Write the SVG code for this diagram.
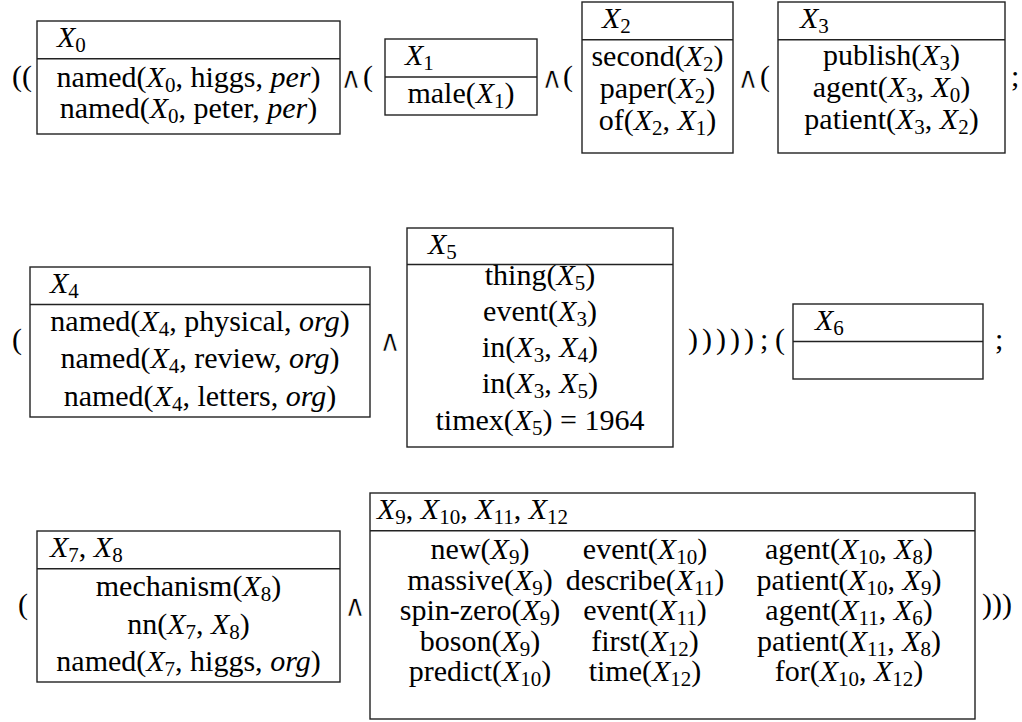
<svg xmlns="http://www.w3.org/2000/svg" width="1022" height="722" viewBox="0 0 1022 722">
<style>
.t,.op{font-family:'Liberation Serif',serif;font-size:30px;fill:#000}
.m{text-anchor:middle}
.i{font-style:italic}
.s{font-size:21px}
.box{fill:#fff;stroke:#222;stroke-width:1.4}
.div{stroke:#222;stroke-width:1.4}
.and{font-family:'DejaVu Sans',sans-serif;font-size:30px;fill:#000;stroke:#fff;stroke-width:0.7;text-anchor:middle}
</style>
<rect width="1022" height="722" fill="#fff"/>

<g id="operators">
<text class="op" x="12" y="86">((</text>
<text class="and" x="351" y="88">∧</text><text class="op" x="363" y="86">(</text>
<text class="and" x="552" y="88">∧</text><text class="op" x="563" y="86">(</text>
<text class="and" x="748" y="88">∧</text><text class="op" x="760" y="86">(</text>
<text class="op" x="1011" y="86">;</text>

<text class="op" x="12" y="349">(</text>
<text class="and" x="390" y="351">∧</text>
<text class="op" x="688" y="349" letter-spacing="4">)))))</text>
<text class="op" x="760" y="349">;</text>
<text class="op" x="775" y="349">(</text>
<text class="op" x="995" y="349">;</text>

<text class="op" x="18" y="614">(</text>
<text class="and" x="355" y="616">∧</text>
<text class="op" x="982" y="614">)))</text>
</g>

<g id="drs-x0">
<rect class="box" x="37" y="21" width="303" height="113"/>
<line class="div" x1="37" y1="58.7" x2="340" y2="58.7"/>
<text class="t" x="57" y="47.4"><tspan class="i">X</tspan><tspan class="s" dy="5">0</tspan></text>
<text class="t m" x="188.5" y="87">named(<tspan class="i">X</tspan><tspan class="s" dy="5">0</tspan><tspan dy="-5">, higgs, </tspan><tspan class="i">per</tspan>)</text>
<text class="t m" x="188.5" y="118">named(<tspan class="i">X</tspan><tspan class="s" dy="5">0</tspan><tspan dy="-5">, peter, </tspan><tspan class="i">per</tspan>)</text>
</g>

<g id="drs-x1">
<rect class="box" x="385" y="39" width="152" height="76"/>
<line class="div" x1="385" y1="77" x2="537" y2="77"/>
<text class="t" x="405" y="65.4"><tspan class="i">X</tspan><tspan class="s" dy="5">1</tspan></text>
<text class="t m" x="461" y="102.5">male(<tspan class="i">X</tspan><tspan class="s" dy="5">1</tspan><tspan dy="-5">)</tspan></text>
</g>

<g id="drs-x2">
<rect class="box" x="582" y="2" width="151" height="151"/>
<line class="div" x1="582" y1="39.7" x2="733" y2="39.7"/>
<text class="t" x="602" y="28.4"><tspan class="i">X</tspan><tspan class="s" dy="5">2</tspan></text>
<text class="t m" x="657.5" y="66">second(<tspan class="i">X</tspan><tspan class="s" dy="5">2</tspan><tspan dy="-5">)</tspan></text>
<text class="t m" x="657.5" y="98">paper(<tspan class="i">X</tspan><tspan class="s" dy="5">2</tspan><tspan dy="-5">)</tspan></text>
<text class="t m" x="657.5" y="130">of(<tspan class="i">X</tspan><tspan class="s" dy="5">2</tspan><tspan dy="-5">, </tspan><tspan class="i">X</tspan><tspan class="s" dy="5">1</tspan><tspan dy="-5">)</tspan></text>
</g>

<g id="drs-x3">
<rect class="box" x="778" y="2" width="227" height="151"/>
<line class="div" x1="778" y1="39.7" x2="1005" y2="39.7"/>
<text class="t" x="800" y="28.4"><tspan class="i">X</tspan><tspan class="s" dy="5">3</tspan></text>
<text class="t m" x="891.5" y="65">publish(<tspan class="i">X</tspan><tspan class="s" dy="5">3</tspan><tspan dy="-5">)</tspan></text>
<text class="t m" x="891.5" y="97">agent(<tspan class="i">X</tspan><tspan class="s" dy="5">3</tspan><tspan dy="-5">, </tspan><tspan class="i">X</tspan><tspan class="s" dy="5">0</tspan><tspan dy="-5">)</tspan></text>
<text class="t m" x="891.5" y="129">patient(<tspan class="i">X</tspan><tspan class="s" dy="5">3</tspan><tspan dy="-5">, </tspan><tspan class="i">X</tspan><tspan class="s" dy="5">2</tspan><tspan dy="-5">)</tspan></text>
</g>

<g id="drs-x4">
<rect class="box" x="30" y="267" width="340" height="150"/>
<line class="div" x1="30" y1="304.5" x2="370" y2="304.5"/>
<text class="t" x="50" y="293.4"><tspan class="i">X</tspan><tspan class="s" dy="5">4</tspan></text>
<text class="t m" x="200" y="330.9">named(<tspan class="i">X</tspan><tspan class="s" dy="5">4</tspan><tspan dy="-5">, physical, </tspan><tspan class="i">org</tspan>)</text>
<text class="t m" x="200" y="368.4">named(<tspan class="i">X</tspan><tspan class="s" dy="5">4</tspan><tspan dy="-5">, review, </tspan><tspan class="i">org</tspan>)</text>
<text class="t m" x="200" y="405.9">named(<tspan class="i">X</tspan><tspan class="s" dy="5">4</tspan><tspan dy="-5">, letters, </tspan><tspan class="i">org</tspan>)</text>
</g>

<g id="drs-x5">
<rect class="box" x="407" y="228" width="266" height="219"/>
<line class="div" x1="407" y1="264.5" x2="673" y2="264.5"/>
<text class="t" x="428" y="253.6"><tspan class="i">X</tspan><tspan class="s" dy="5">5</tspan></text>
<text class="t m" x="540" y="285">thing(<tspan class="i">X</tspan><tspan class="s" dy="5">5</tspan><tspan dy="-5">)</tspan></text>
<text class="t m" x="540" y="321">event(<tspan class="i">X</tspan><tspan class="s" dy="5">3</tspan><tspan dy="-5">)</tspan></text>
<text class="t m" x="540" y="357">in(<tspan class="i">X</tspan><tspan class="s" dy="5">3</tspan><tspan dy="-5">, </tspan><tspan class="i">X</tspan><tspan class="s" dy="5">4</tspan><tspan dy="-5">)</tspan></text>
<text class="t m" x="540" y="393">in(<tspan class="i">X</tspan><tspan class="s" dy="5">3</tspan><tspan dy="-5">, </tspan><tspan class="i">X</tspan><tspan class="s" dy="5">5</tspan><tspan dy="-5">)</tspan></text>
<text class="t m" x="540" y="429.5">timex(<tspan class="i">X</tspan><tspan class="s" dy="5">5</tspan><tspan dy="-5">) = 1964</tspan></text>
</g>

<g id="drs-x6">
<rect class="box" x="793" y="304" width="190" height="75"/>
<line class="div" x1="793" y1="341.5" x2="983" y2="341.5"/>
<text class="t" x="815" y="330.4"><tspan class="i">X</tspan><tspan class="s" dy="5">6</tspan></text>
</g>

<g id="drs-x7-x8">
<rect class="box" x="37" y="531" width="303" height="151"/>
<line class="div" x1="37" y1="568.7" x2="340" y2="568.7"/>
<text class="t" x="50" y="557.4"><tspan class="i">X</tspan><tspan class="s" dy="5">7</tspan><tspan dy="-5">, </tspan><tspan class="i">X</tspan><tspan class="s" dy="5">8</tspan></text>
<text class="t m" x="188.5" y="595.5">mechanism(<tspan class="i">X</tspan><tspan class="s" dy="5">8</tspan><tspan dy="-5">)</tspan></text>
<text class="t m" x="188.5" y="633.5">nn(<tspan class="i">X</tspan><tspan class="s" dy="5">7</tspan><tspan dy="-5">, </tspan><tspan class="i">X</tspan><tspan class="s" dy="5">8</tspan><tspan dy="-5">)</tspan></text>
<text class="t m" x="188.5" y="671">named(<tspan class="i">X</tspan><tspan class="s" dy="5">7</tspan><tspan dy="-5">, higgs, </tspan><tspan class="i">org</tspan>)</text>
</g>

<g id="drs-x9-x12">
<rect class="box" x="370" y="493" width="605" height="226"/>
<line class="div" x1="370" y1="530.7" x2="975" y2="530.7"/>
<text class="t" x="377" y="519.4"><tspan class="i">X</tspan><tspan class="s" dy="5">9</tspan><tspan dy="-5">, </tspan><tspan class="i">X</tspan><tspan class="s" dy="5">10</tspan><tspan dy="-5">, </tspan><tspan class="i">X</tspan><tspan class="s" dy="5">11</tspan><tspan dy="-5">, </tspan><tspan class="i">X</tspan><tspan class="s" dy="5">12</tspan></text>

<text class="t m" x="480" y="559">new(<tspan class="i">X</tspan><tspan class="s" dy="5">9</tspan><tspan dy="-5">)</tspan></text>
<text class="t m" x="645" y="559">event(<tspan class="i">X</tspan><tspan class="s" dy="5">10</tspan><tspan dy="-5">)</tspan></text>
<text class="t m" x="849" y="559">agent(<tspan class="i">X</tspan><tspan class="s" dy="5">10</tspan><tspan dy="-5">, </tspan><tspan class="i">X</tspan><tspan class="s" dy="5">8</tspan><tspan dy="-5">)</tspan></text>

<text class="t m" x="480" y="589.5">massive(<tspan class="i">X</tspan><tspan class="s" dy="5">9</tspan><tspan dy="-5">)</tspan></text>
<text class="t m" x="645" y="589.5">describe(<tspan class="i">X</tspan><tspan class="s" dy="5">11</tspan><tspan dy="-5">)</tspan></text>
<text class="t m" x="849" y="589.5">patient(<tspan class="i">X</tspan><tspan class="s" dy="5">10</tspan><tspan dy="-5">, </tspan><tspan class="i">X</tspan><tspan class="s" dy="5">9</tspan><tspan dy="-5">)</tspan></text>

<text class="t m" x="480" y="620">spin-zero(<tspan class="i">X</tspan><tspan class="s" dy="5">9</tspan><tspan dy="-5">)</tspan></text>
<text class="t m" x="645" y="620">event(<tspan class="i">X</tspan><tspan class="s" dy="5">11</tspan><tspan dy="-5">)</tspan></text>
<text class="t m" x="849" y="620">agent(<tspan class="i">X</tspan><tspan class="s" dy="5">11</tspan><tspan dy="-5">, </tspan><tspan class="i">X</tspan><tspan class="s" dy="5">6</tspan><tspan dy="-5">)</tspan></text>

<text class="t m" x="480" y="650.5">boson(<tspan class="i">X</tspan><tspan class="s" dy="5">9</tspan><tspan dy="-5">)</tspan></text>
<text class="t m" x="645" y="650.5">first(<tspan class="i">X</tspan><tspan class="s" dy="5">12</tspan><tspan dy="-5">)</tspan></text>
<text class="t m" x="849" y="650.5">patient(<tspan class="i">X</tspan><tspan class="s" dy="5">11</tspan><tspan dy="-5">, </tspan><tspan class="i">X</tspan><tspan class="s" dy="5">8</tspan><tspan dy="-5">)</tspan></text>

<text class="t m" x="480" y="681">predict(<tspan class="i">X</tspan><tspan class="s" dy="5">10</tspan><tspan dy="-5">)</tspan></text>
<text class="t m" x="645" y="681">time(<tspan class="i">X</tspan><tspan class="s" dy="5">12</tspan><tspan dy="-5">)</tspan></text>
<text class="t m" x="849" y="681">for(<tspan class="i">X</tspan><tspan class="s" dy="5">10</tspan><tspan dy="-5">, </tspan><tspan class="i">X</tspan><tspan class="s" dy="5">12</tspan><tspan dy="-5">)</tspan></text>
</g>
</svg>
